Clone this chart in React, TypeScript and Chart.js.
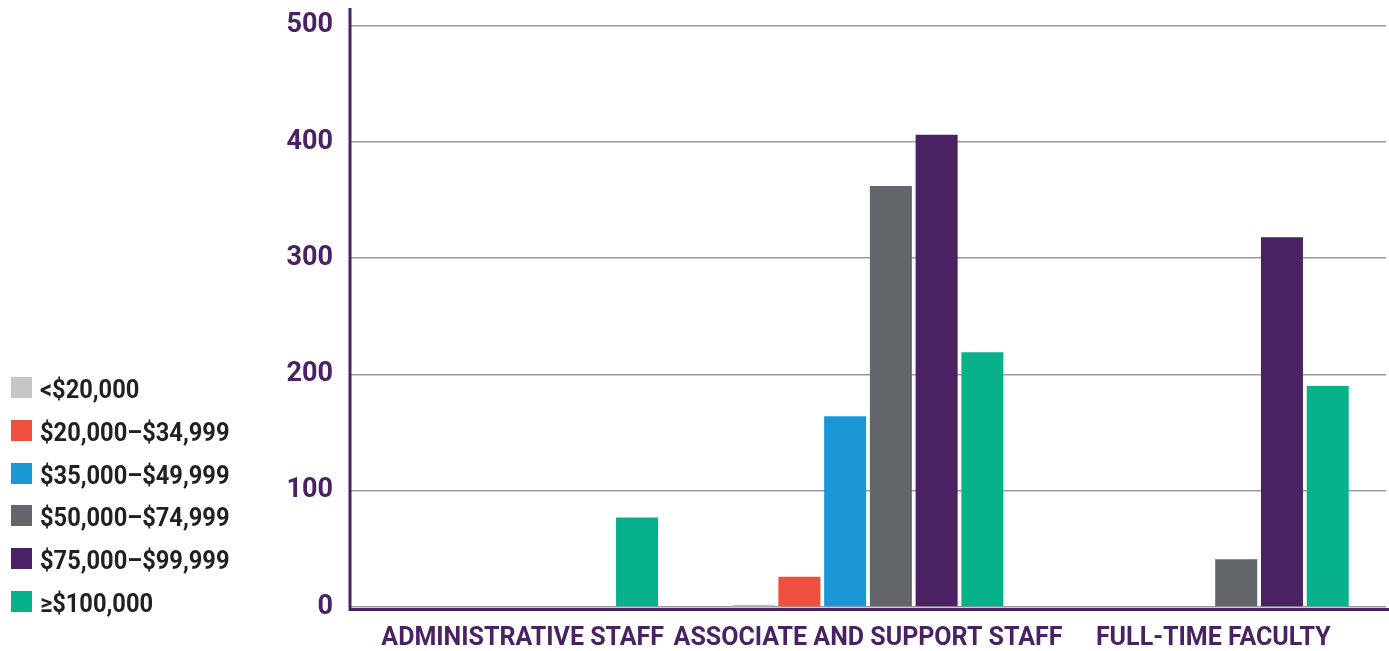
import React, { useEffect, useRef } from "react";
import { Chart, registerables } from "chart.js";

Chart.register(...registerables);

const categories = ["ADMINISTRATIVE STAFF", "ASSOCIATE AND SUPPORT STAFF", "FULL-TIME FACULTY"];
const seriesLabels = ["<$20,000", "$20,000–$34,999", "$35,000–$49,999", "$50,000–$74,999", "$75,000–$99,999", "≥$100,000"];
const under20k = [0, 2, 0];
const from20to35k = [0, 26, 0];
const from35to50k = [0, 164, 0];
const from50to75k = [0, 362, 41];
const from75to100k = [0, 406, 318];
const over100k = [77, 219, 190];
const yTicks = [0, 100, 200, 300, 400, 500];

const colors = ["#c6c6c6", "#ef503d", "#1a98d5", "#63666a", "#4a2264", "#07b18a"];
const PURPLE = "#4a2264";
const FONT = "Roboto, sans-serif";

const axisLines = {
  id: "axisLines",
  afterDatasetsDraw(chart: any) {
    const { ctx, chartArea } = chart;
    ctx.save();
    ctx.strokeStyle = PURPLE;
    ctx.lineWidth = 3;
    ctx.beginPath();
    ctx.moveTo(chartArea.left, chartArea.top);
    ctx.lineTo(chartArea.left, chartArea.bottom + 4);
    ctx.moveTo(chartArea.left - 1.5, chartArea.bottom + 2.5);
    ctx.lineTo(chart.width, chartArea.bottom + 2.5);
    ctx.stroke();
    ctx.restore();
  },
};

export default function App() {
  const ref = useRef<HTMLCanvasElement>(null);
  useEffect(() => {
    const series = [under20k, from20to35k, from35to50k, from50to75k, from75to100k, over100k];
    const chart = new Chart(ref.current!, {
      type: "bar",
      data: {
        labels: categories,
        datasets: series.map((d, i) => ({
          label: seriesLabels[i],
          data: d,
          backgroundColor: colors[i],
          borderWidth: 0,
          categoryPercentage: 0.795,
          barPercentage: 0.918,
        })),
      },
      options: {
        responsive: false,
        animation: false,
        layout: { padding: { left: 0, right: 3, top: 8, bottom: 0 } },
        plugins: { legend: { display: false }, tooltip: { enabled: false } },
        scales: {
          x: {
            grid: { display: false, drawTicks: false },
            border: { display: false },
            ticks: {
              color: PURPLE,
              font: { family: FONT, size: 25, weight: "bold" },
              padding: 17,
              maxRotation: 0,
              autoSkip: false,
            },
            afterFit(scale: any) {
              scale.height = 44;
              scale.paddingLeft = 0;
              scale.paddingRight = 0;
            },
          },
          y: {
            min: 0,
            max: 515,
            grid: { color: "#9a9a9a", lineWidth: 1.5, drawTicks: false },
            border: { display: false },
            ticks: {
              stepSize: 100,
              color: PURPLE,
              padding: 17,
              font: { family: FONT, size: 27, weight: "bold" },
            },
            afterBuildTicks(scale: any) {
              scale.ticks = yTicks.map((v) => ({ value: v }));
            },
            afterFit(scale: any) {
              scale.width = 350;
              scale.paddingTop = 0;
              scale.paddingBottom = 0;
            },
          },
        },
      },
      plugins: [axisLines],
    } as any);
    return () => chart.destroy();
  }, []);

  return (
    <div style={{ position: "fixed", left: 0, top: 0, width: 1389, height: 651, background: "#fff" }}>
      <canvas ref={ref} width={1389} height={651} style={{ position: "absolute", left: 0, top: 0 }} />
      <div style={{ position: "absolute", left: 11, top: 377 }}>
        {seriesLabels.map((l, i) => (
          <div key={l} style={{ display: "flex", alignItems: "center", height: 21, marginBottom: 21.8 }}>
            <div style={{ width: 21, height: 21, background: colors[i], flex: "none" }} />
            <span
              style={{
                marginLeft: 8,
                fontFamily: FONT,
                fontWeight: 700,
                fontSize: 26,
                color: "#231f20",
                whiteSpace: "nowrap",
                lineHeight: "21px",
                position: "relative",
                top: 2,
                display: "inline-block",
                transform: "scaleX(0.91)",
                transformOrigin: "left center",
              }}
            >
              {l}
            </span>
          </div>
        ))}
      </div>
    </div>
  );
}
